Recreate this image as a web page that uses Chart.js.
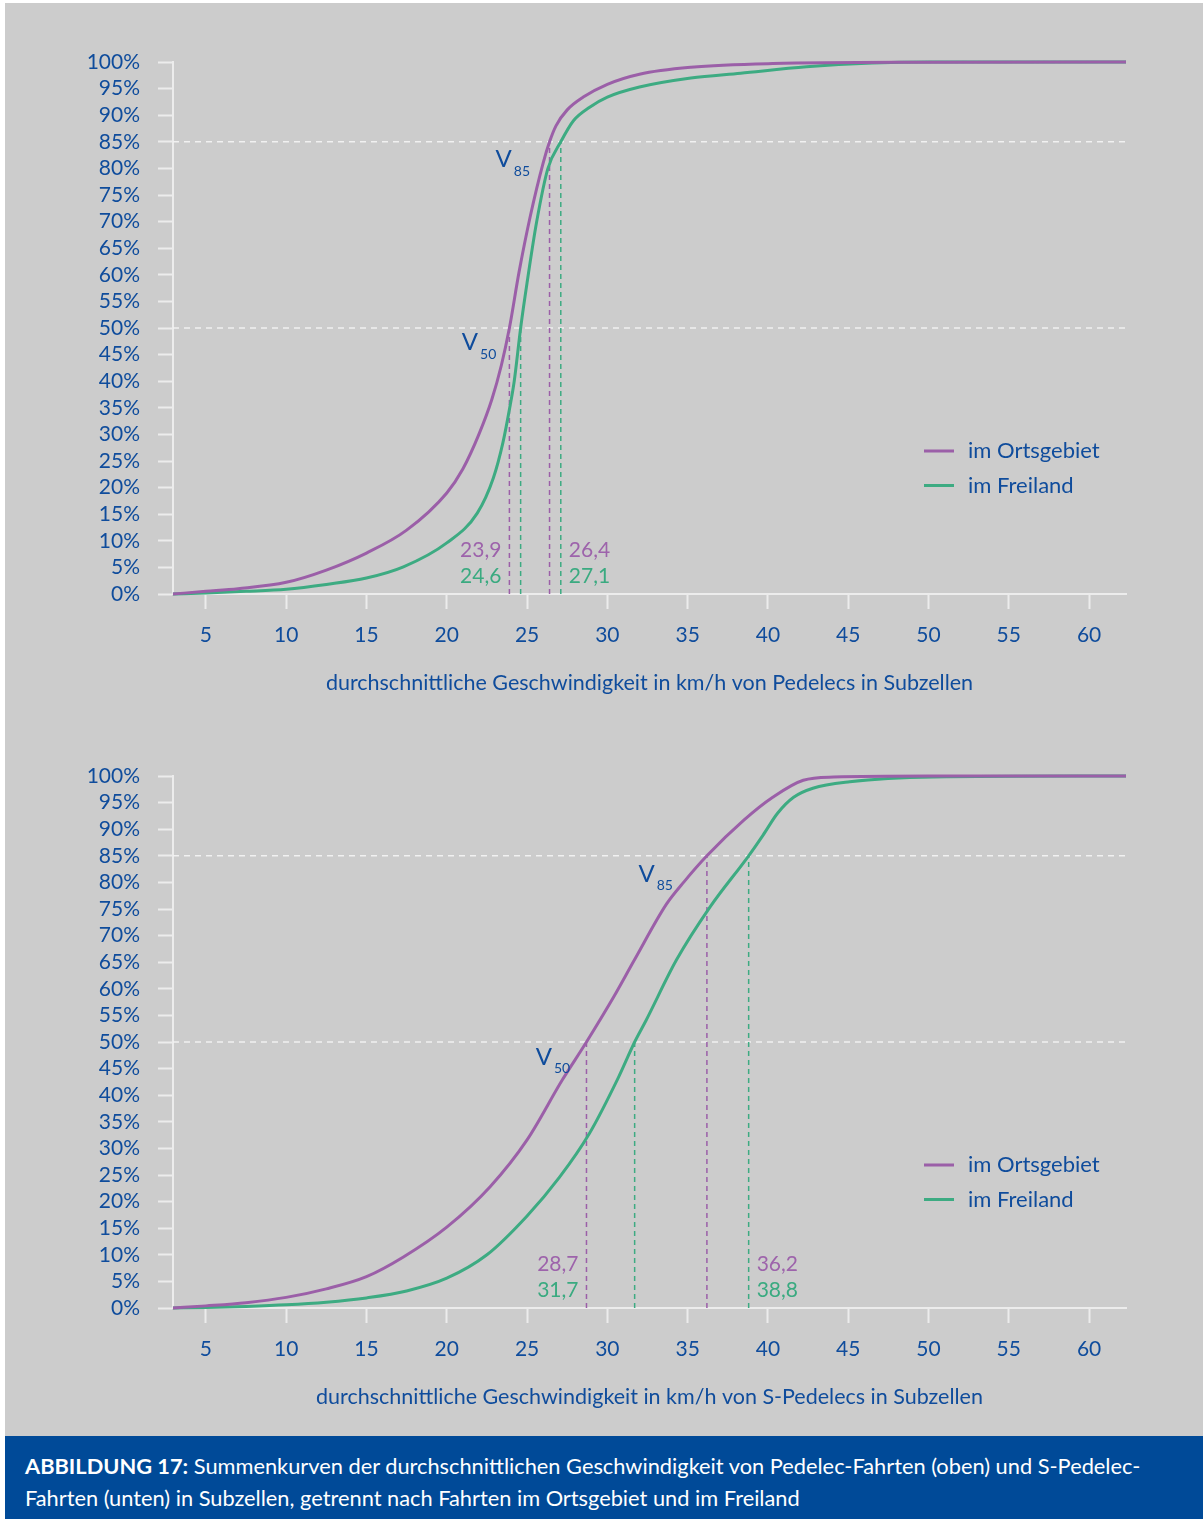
<!DOCTYPE html>
<html lang="de">
<head>
<meta charset="utf-8">
<title>Summenkurven Geschwindigkeit Pedelecs</title>
<script src="https://cdn.jsdelivr.net/npm/chart.js@4.4.1/dist/chart.umd.min.js"></script>
<style>
  html, body { margin: 0; padding: 0; background: #fff; }
  #page { position: relative; width: 1203px; height: 1519px; overflow: hidden; font-family: Lato, "Open Sans", sans-serif; }
  #panel { position: absolute; left: 5px; top: 3px; right: 0; height: 1433px; background: #cccccc; }
  canvas { position: absolute; left: 0; }
  #c1 { top: 0; }
  #c2 { top: 714px; }
  #caption { position: absolute; left: 5px; right: 0; top: 1436px; bottom: 0; background: #004a98; color: #fff;
             font-size: 21.8px; line-height: 32px; padding: 14px 0 0 20px; box-sizing: border-box; white-space: nowrap; }
</style>
</head>
<body>
<div id="page">
  <div id="panel"></div>
  <canvas id="c1" width="1203" height="714"></canvas>
  <canvas id="c2" width="1203" height="714"></canvas>
  <div id="caption"><b>ABBILDUNG 17:</b> Summenkurven der durchschnittlichen Geschwindigkeit von Pedelec-Fahrten (oben) und S-Pedelec-<br>Fahrten (unten) in Subzellen, getrennt nach Fahrten im Ortsgebiet und im Freiland</div>
</div>
<script>
const speedTicks = [5, 10, 15, 20, 25, 30, 35, 40, 45, 50, 55, 60];
const shareTicks = [0, 5, 10, 15, 20, 25, 30, 35, 40, 45, 50, 55, 60, 65, 70, 75, 80, 85, 90, 95, 100];
const speedMin = 2.95;
const speedMax = 62.3;
const seriesNames = ['im Ortsgebiet', 'im Freiland'];
const thresholds = [50, 85];

// Pedelecs (km/h -> cumulative share in %)
const pedOrtSpeed = [2.95, 5, 7, 10, 12.5, 15, 17.5, 20, 21, 22, 22.8, 23.4, 23.9, 24.5, 25.2, 26.0, 26.4, 26.8, 27.5, 28.5, 30, 32, 35.2, 40.3, 50, 62.3];
const pedOrtShare = [0, 0.5, 1.0, 2.2, 4.5, 7.7, 12, 19, 23.5, 30, 36.5, 43, 50, 60.5, 71, 81, 85, 88, 91, 93.4, 95.8, 97.7, 99, 99.7, 99.95, 100];
const pedFreiSpeed = [2.95, 5, 7.5, 10, 12.5, 15, 17.3, 20, 21.9, 22.9, 23.5, 23.95, 24.2, 24.6, 25.0, 25.6, 26.3, 27.1, 27.9, 28.9, 30, 32, 35.2, 38.3, 42.4, 46.5, 50, 62.3];
const pedFreiShare = [0, 0.2, 0.5, 0.9, 1.8, 3, 5.1, 9.6, 15.2, 21.8, 28.5, 35.5, 40, 50, 58.5, 70, 80, 85, 89, 91.5, 93.4, 95.3, 97, 97.9, 99.1, 99.8, 100, 100];
const pedV50 = [23.9, 24.6];
const pedV85 = [26.4, 27.1];

// S-Pedelecs
const sPedOrtSpeed = [2.95, 5, 7.5, 10, 12.5, 15, 17.3, 20, 22.7, 25.0, 27.2, 28.7, 30.4, 31.7, 33.7, 34.8, 36.2, 38.5, 40.3, 42.2, 44.1, 50, 62.3];
const sPedOrtShare = [0, 0.4, 1.0, 2, 3.6, 5.9, 9.6, 15.2, 22.8, 31.6, 42.9, 50, 58.5, 65.5, 76, 80.2, 85, 91.7, 96, 99.2, 99.8, 100, 100];
const sPedFreiSpeed = [2.95, 5, 7.5, 10, 12.5, 15, 17.5, 20, 22.5, 25, 27, 28.9, 30.7, 31.7, 32.4, 34.3, 36.4, 38.8, 39.7, 40.6, 41.6, 42.8, 45.1, 50.3, 62.3];
const sPedFreiShare = [0, 0.1, 0.3, 0.6, 1.1, 1.9, 3.2, 5.6, 10, 17.3, 24.5, 32.9, 43.4, 50, 54, 65.4, 75.4, 85, 88.9, 93, 96, 97.7, 98.9, 99.8, 100];
const sPedV50 = [28.7, 31.7];
const sPedV85 = [36.2, 38.8];

const fontFamily = 'Lato, "Open Sans", sans-serif';
const textBlue = '#0f4c9c';
const axisColor = '#ececec';
const lineColors = ['#9b5fa8', '#3dab82'];
const labelColors = ['#9d63ab', '#3aaa80'];

const toPoints = (xs, ys) => xs.map((v, i) => ({ x: v, y: ys[i] }));
const fmt = v => v.toFixed(1).replace('.', ',');

// V50/V85 marks, value labels at the dashed lines and the legend
const chartNotes = {
  id: 'chartNotes',
  afterDatasetsDraw(chart, args, opts) {
    const { ctx, chartArea, scales: { x, y } } = chart;
    ctx.save();
    ctx.textBaseline = 'middle';

    opts.marks.forEach(m => {
      const px = x.getPixelForValue(m.at[0]);
      const py = y.getPixelForValue(m.at[1]);
      ctx.fillStyle = textBlue;
      ctx.textAlign = 'left';
      ctx.font = `24px ${fontFamily}`;
      ctx.fillText('V', px - 1, py);
      const w = ctx.measureText('V').width;
      ctx.font = `14px ${fontFamily}`;
      ctx.fillText(m.sub, px + w + 1, py + 12);
    });

    ctx.font = `21px ${fontFamily}`;
    const rows = [chartArea.bottom - 44, chartArea.bottom - 18];
    opts.v50.forEach((v, i) => {
      ctx.fillStyle = labelColors[i];
      ctx.textAlign = 'right';
      ctx.fillText(fmt(v), x.getPixelForValue(opts.v50[0]) - 8, rows[i]);
    });
    opts.v85.forEach((v, i) => {
      ctx.fillStyle = labelColors[i];
      ctx.textAlign = 'left';
      ctx.fillText(fmt(v), x.getPixelForValue(opts.v85[1]) + 8, rows[i]);
    });

    // legend
    const lx = chartArea.right - 202;
    chart.data.datasets.filter(ds => ds.isCurve).forEach((ds, i) => {
      const ly = chartArea.bottom - 143 + i * 34.5;
      ctx.strokeStyle = ds.borderColor;
      ctx.lineWidth = 3;
      ctx.beginPath();
      ctx.moveTo(lx, ly);
      ctx.lineTo(lx + 30, ly);
      ctx.stroke();
      ctx.fillStyle = textBlue;
      ctx.textAlign = 'left';
      ctx.font = `22px ${fontFamily}`;
      ctx.fillText(ds.label, lx + 44, ly);
    });
    ctx.restore();
  }
};

function buildChart(canvasId, xTitle, curves, v50, v85, marks) {
  const datasets = [];
  curves.forEach((c, i) => {
    datasets.push({
      label: seriesNames[i],
      data: toPoints(c[0], c[1]),
      borderColor: lineColors[i],
      borderWidth: 3,
      pointRadius: 0,
      cubicInterpolationMode: 'monotone',
      clip: false,
      order: i,
      isCurve: true
    });
  });
  thresholds.forEach(t => {
    datasets.push({
      data: [{ x: speedMin, y: t }, { x: speedMax, y: t }],
      borderColor: 'rgba(242,242,242,0.95)',
      borderWidth: 1.5,
      borderDash: [6, 5],
      pointRadius: 0,
      order: 6
    });
  });
  [v50, v85].forEach((vals, k) => {
    vals.forEach((v, i) => {
      datasets.push({
        data: [{ x: v, y: 0 }, { x: v, y: thresholds[k] }],
        borderColor: lineColors[i],
        borderWidth: 1.5,
        borderDash: [5, 4],
        pointRadius: 0,
        order: 5
      });
    });
  });

  new Chart(document.getElementById(canvasId), {
    type: 'line',
    data: { datasets },
    plugins: [chartNotes],
    options: {
      responsive: false,
      animation: false,
      events: [],
      devicePixelRatio: 1,
      layout: { padding: { top: 62, right: 77, bottom: 0, left: 0 } },
      plugins: {
        legend: { display: false },
        tooltip: { enabled: false },
        chartNotes: { v50, v85, marks }
      },
      scales: {
        x: {
          type: 'linear',
          min: speedMin,
          max: speedMax,
          afterBuildTicks: s => { s.ticks = speedTicks.map(v => ({ value: v })); },
          afterFit: s => { s.height = 120; },
          grid: { drawOnChartArea: false, tickLength: 15, tickColor: axisColor, tickWidth: 2 },
          border: { color: axisColor, width: 2 },
          ticks: { color: textBlue, font: { family: fontFamily, size: 21 }, padding: 14, maxRotation: 0, autoSkip: false },
          title: {
            display: true,
            text: xTitle,
            color: textBlue,
            font: { family: fontFamily, size: 21.5 },
            padding: { top: 0, bottom: 18 }
          }
        },
        y: {
          type: 'linear',
          min: 0,
          max: 100,
          afterBuildTicks: s => { s.ticks = shareTicks.map(v => ({ value: v })); },
          afterFit: s => { s.width = 173; },
          grid: { drawOnChartArea: false, tickLength: 15, tickColor: axisColor, tickWidth: 2 },
          border: { color: axisColor, width: 2 },
          ticks: { color: textBlue, font: { family: fontFamily, size: 21 }, padding: 18, autoSkip: false, callback: v => v + '%' }
        }
      }
    }
  });
}

buildChart('c1', 'durchschnittliche Geschwindigkeit in km/h von Pedelecs in Subzellen',
  [[pedOrtSpeed, pedOrtShare], [pedFreiSpeed, pedFreiShare]], pedV50, pedV85,
  [{ at: [21.0, 47.3], sub: '50' }, { at: [23.1, 81.7], sub: '85' }]);

buildChart('c2', 'durchschnittliche Geschwindigkeit in km/h von S-Pedelecs in Subzellen',
  [[sPedOrtSpeed, sPedOrtShare], [sPedFreiSpeed, sPedFreiShare]], sPedV50, sPedV85,
  [{ at: [25.6, 47.2], sub: '50' }, { at: [32.0, 81.6], sub: '85' }]);
</script>
</body>
</html>
